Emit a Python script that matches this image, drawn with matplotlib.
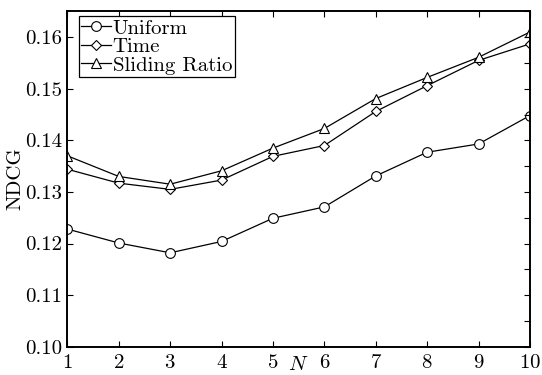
import numpy as np
import matplotlib
matplotlib.use('Agg')
import matplotlib.pyplot as plt
from matplotlib.ticker import MultipleLocator

# ---------- Data ----------

N = [1, 2, 3, 4, 5, 6, 7, 8, 9, 10]
uniform = [0.1228, 0.1201, 0.1182, 0.1204, 0.1249, 0.1271, 0.1331, 0.1377, 0.1393, 0.1448]
time_ = [0.1344, 0.1317, 0.1305, 0.1323, 0.1369, 0.1390, 0.1456, 0.1506, 0.1555, 0.1587]
sliding = [0.1370, 0.1330, 0.1315, 0.1341, 0.1385, 0.1423, 0.1481, 0.1522, 0.1561, 0.1610]
labels = ['Uniform', 'Time', 'Sliding Ratio']
yticks = [0.10, 0.11, 0.12, 0.13, 0.14, 0.15, 0.16]

# ---------- Style ----------

plt.rcParams['font.family'] = 'cmr10'
plt.rcParams['mathtext.fontset'] = 'cm'
plt.rcParams['axes.formatter.use_mathtext'] = True
plt.rcParams['font.size'] = 15

fig = plt.figure(figsize=(5.42, 3.75), dpi=100)
ax = fig.add_axes([0.1244, 0.0755, 0.8533, 0.8941])

style = dict(color='k', lw=0.9, mfc='white', mec='k', mew=0.8)
ax.plot(N, uniform, marker='o', ms=7, label=labels[0], **style)
ax.plot(N, time_, marker='D', ms=5.5, label=labels[1], **style)
ax.plot(N, sliding, marker='^', ms=7, label=labels[2], **style)

ax.set_xlim(1, 10)
ax.set_ylim(0.10, 0.165)
ax.set_xticks(N)
ax.set_yticks(yticks)
ax.set_yticklabels([f'{v:.2f}' for v in yticks])
ax.tick_params(direction='in', length=4, width=0.8, top=True, right=False)
ax.tick_params(axis='y', pad=4)
ax.tick_params(axis='x', pad=5)

# right side has ticks every 0.005
ax2 = ax.twinx()
ax2.set_ylim(ax.get_ylim())
ax2.yaxis.set_major_locator(MultipleLocator(0.005))
ax2.tick_params(direction='in', length=4, width=0.8, labelright=False)

for a in (ax, ax2):
    for s in a.spines.values():
        s.set_linewidth(1.2)

ax.set_xlabel('$N$', labelpad=-11)
ax.set_ylabel('NDCG', labelpad=0)

leg = ax.legend(loc='upper left', bbox_to_anchor=(0.025, 0.985), frameon=True,
                fancybox=False, edgecolor='k', framealpha=1, borderpad=0.12,
                labelspacing=0.0, handlelength=1.4, handletextpad=0.1,
                borderaxespad=0.0, fontsize=15)
leg.get_frame().set_linewidth(0.9)

fig.savefig('out.png', dpi=100)
